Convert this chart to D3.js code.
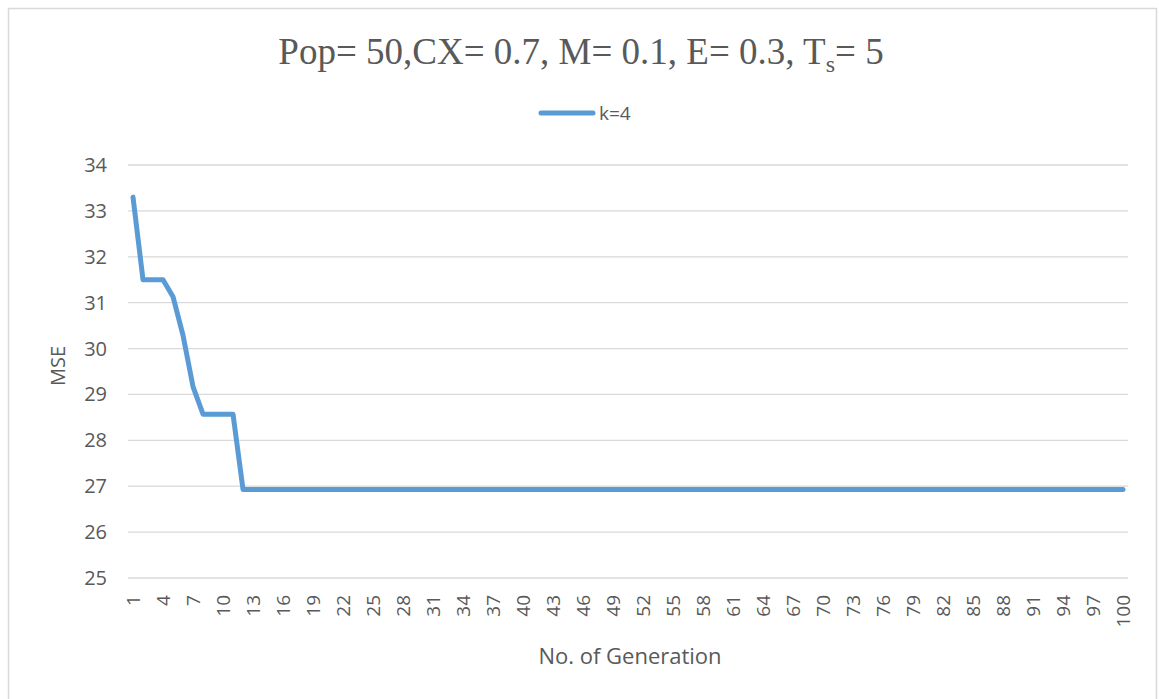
<!DOCTYPE html>
<html>
<head>
<meta charset="utf-8">
<script src="https://cdn.jsdelivr.net/npm/d3@7"></script>
<style>
  body { margin: 0; background: #fff; }
  text { fill: #595959; }
</style>
</head>
<body>
<div id="chart"></div>
<script>
// generations 1..100
let generations = d3.range(1, 101);
// MSE per generation (k=4), flat after generation 12
let mseStart = [33.3, 31.5, 31.5, 31.5, 31.13, 30.29, 29.17, 28.57, 28.57, 28.57, 28.57];
let mseFlat = 26.93;
let mse = generations.map((g, i) => i < mseStart.length ? mseStart[i] : mseFlat);
let yTicks = [25, 26, 27, 28, 29, 30, 31, 32, 33, 34];
let xTickLabels = generations.filter(g => (g - 1) % 3 === 0);
let seriesName = "k=4";

let width = 1159, height = 699;
let margin = { left: 128, right: 1128, top: 165, bottom: 578 };

let svg = d3.select("#chart").append("svg")
  .attr("width", width)
  .attr("height", height);

// chart frame
svg.append("rect")
  .attr("x", 8.5).attr("y", 8.5)
  .attr("width", 1148).attr("height", 720)
  .attr("fill", "#fff")
  .attr("stroke", "#d9d9d9")
  .attr("stroke-width", 1.5);

let x = d3.scaleBand()
  .domain(generations)
  .range([margin.left, margin.right]);

let y = d3.scaleLinear()
  .domain([25, 34])
  .range([margin.bottom, margin.top]);

// gridlines
svg.append("g")
  .selectAll("line")
  .data(yTicks)
  .enter().append("line")
  .attr("x1", margin.left).attr("x2", margin.right)
  .attr("y1", d => y(d)).attr("y2", d => y(d))
  .attr("stroke", "#d9d9d9")
  .attr("stroke-width", 1.3);

// y labels
svg.append("g")
  .selectAll("text")
  .data(yTicks)
  .enter().append("text")
  .attr("x", 107)
  .attr("y", d => y(d))
  .attr("dy", "0.35em")
  .attr("text-anchor", "end")
  .style("font-family", "'Open Sans', sans-serif")
  .style("font-size", "20px")
  .text(d => d);

// x labels, rotated
svg.append("g")
  .selectAll("text")
  .data(xTickLabels)
  .enter().append("text")
  .attr("transform", d => "translate(" + (x(d) + x.bandwidth() / 2) + ",595) rotate(-90)")
  .attr("dy", "0.35em")
  .attr("text-anchor", "end")
  .style("font-family", "'Open Sans', sans-serif")
  .style("font-size", "19px")
  .text(d => d);

// axis titles
svg.append("text")
  .attr("x", 630).attr("y", 664)
  .attr("text-anchor", "middle")
  .style("font-family", "'Open Sans', sans-serif")
  .style("font-size", "22px")
  .text("No. of Generation");

svg.append("text")
  .attr("transform", "translate(58,366) rotate(-90)")
  .attr("dy", "0.35em")
  .attr("text-anchor", "middle")
  .style("font-family", "'Open Sans', sans-serif")
  .style("font-size", "20px")
  .text("MSE");

// title
let title = svg.append("text")
  .attr("x", 581).attr("y", 64)
  .attr("text-anchor", "middle")
  .style("font-family", "'Liberation Serif', 'Times New Roman', serif")
  .style("font-size", "37px");
title.append("tspan").text("Pop= 50,CX= 0.7, M= 0.1, E= 0.3, T");
title.append("tspan").attr("dy", 8).style("font-size", "24px").text("s");
title.append("tspan").attr("dy", -8).text("= 5");

// legend
svg.append("line")
  .attr("x1", 541).attr("x2", 593)
  .attr("y1", 113).attr("y2", 113)
  .attr("stroke", "#5b9bd5")
  .attr("stroke-width", 5)
  .attr("stroke-linecap", "round");
svg.append("text")
  .attr("x", 599).attr("y", 113)
  .attr("dy", "0.35em")
  .style("font-family", "'Open Sans', sans-serif")
  .style("font-size", "19px")
  .text(seriesName);

// the series line
let line = d3.line()
  .x((d, i) => x(generations[i]) + x.bandwidth() / 2)
  .y(d => y(d));

svg.append("path")
  .datum(mse)
  .attr("fill", "none")
  .attr("stroke", "#5b9bd5")
  .attr("stroke-width", 5)
  .attr("stroke-linejoin", "round")
  .attr("stroke-linecap", "round")
  .attr("d", line);
</script>
</body>
</html>
